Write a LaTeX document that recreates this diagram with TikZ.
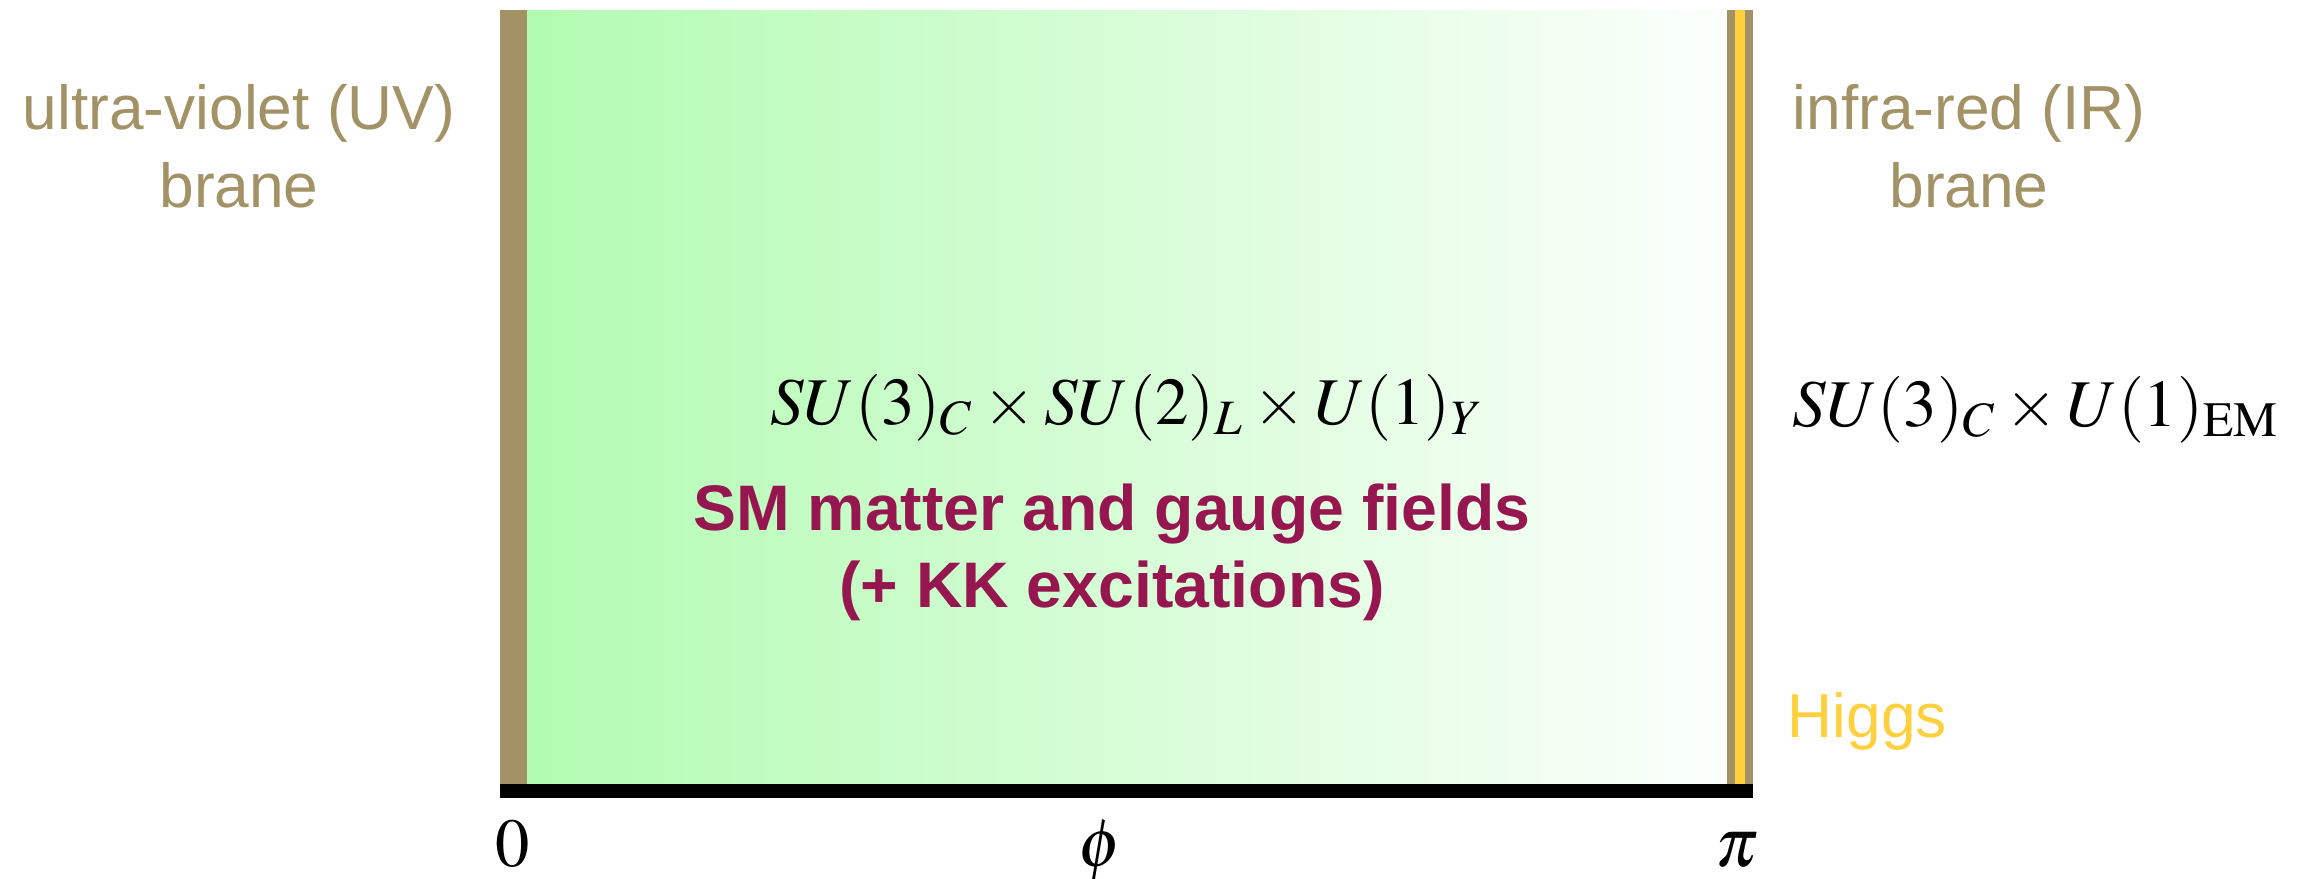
\documentclass[tikz,border=0pt]{standalone}
\usepackage{mathptmx}
\usepackage[no-math]{fontspec}
\setmainfont{Liberation Sans}
\usepackage{tikz}
\usetikzlibrary{positioning,calc}
\definecolor{BraneTan}{RGB}{163,146,102}
\definecolor{HiggsYellow}{RGB}{255,208,61}
\definecolor{BulkGreen}{RGB}{178,251,178}
\definecolor{FieldsMagenta}{RGB}{150,22,80}

\begin{document}
\begin{tikzpicture}[
  x=0.01cm,y=-0.01cm,
  branelabel/.style={
    text=BraneTan,align=center,anchor=base,inner sep=0pt,
    font=\fontsize{17.7}{21.9}\selectfont
  },
  grouplabel/.style={anchor=base,inner sep=0pt,font=\fontsize{19}{23}\selectfont},
  axislabel/.style={anchor=base,inner sep=0pt,font=\fontsize{19.5}{23}\selectfont}
]
  \useasboundingbox (0,0) rectangle (2298,878);
  % bulk between the two branes
  \shade[left color=BulkGreen,right color=BulkGreen!4] (527,10) rectangle (1727,784);
  \fill[BraneTan] (500,10) rectangle (527,784);
  \fill[BraneTan] (1727,10) rectangle (1753,784);
  \fill[HiggsYellow] (1735,10) rectangle (1745,784);
  \fill[black] (500,784) rectangle (1753,798);

  % base anchor sits on the last line
  \node[branelabel] (uv) at (239,207) {ultra-violet (UV)\\brane};
  \node[branelabel] (ir) at (1969,207) {infra-red (IR)\\brane};

  \node[grouplabel] (smgroup) at (1127,424)
    {$SU(3)_C\times SU(2)_L\times U(1)_Y$};
  \node[grouplabel] (emgroup) at (2036,426)
    {$SU(3)_C\times U(1)_{\mathrm{EM}}$};
  \node[branelabel,text=FieldsMagenta,font=\fontsize{18.3}{21.9}\selectfont\bfseries]
    (fields) at (1112,607) {SM matter and gauge fields\\(+ KK excitations)};
  \node[branelabel,text=HiggsYellow,anchor=base west] (higgs) at (1787,737) {Higgs};

  \node[axislabel] (zero) at (513,866) {$0$};
  \node[axislabel] (phi) at (1100,866) {$\phi$};
  \node[axislabel] (pi) at (1737,866) {$\pi$};
\end{tikzpicture}
\end{document}
